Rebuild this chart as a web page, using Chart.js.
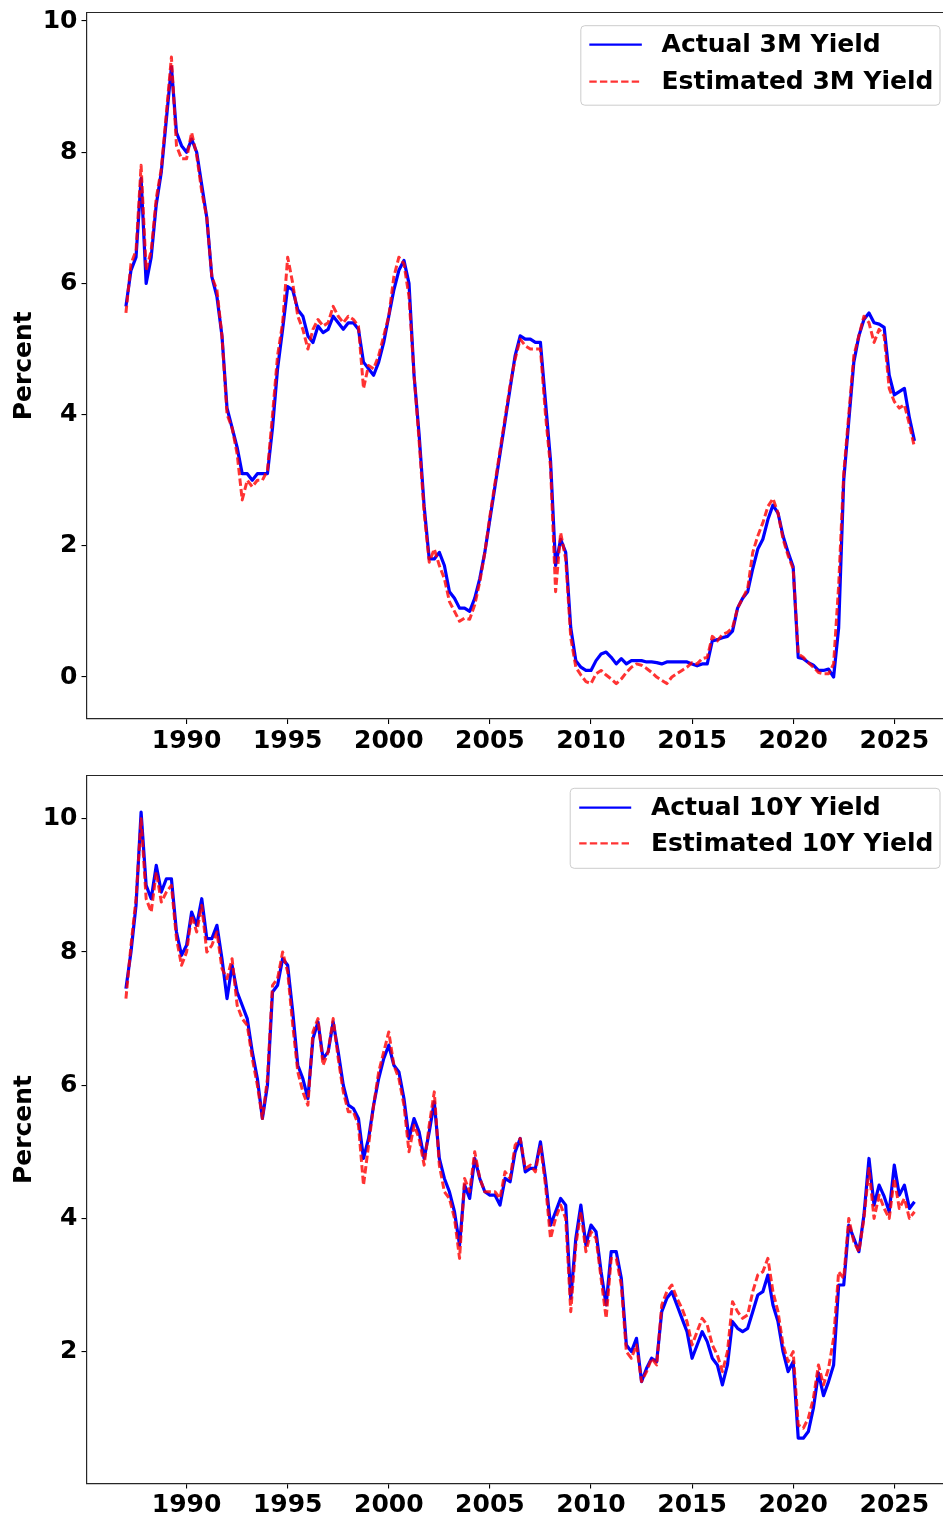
<!DOCTYPE html>
<html>
<head>
<meta charset="utf-8">
<script src="https://cdn.jsdelivr.net/npm/chart.js@4.4.1/dist/chart.umd.min.js"></script>
<style>
  html, body { margin: 0; padding: 0; background: #ffffff; overflow: hidden; }
  #wrap1 { position: absolute; left: 0; top: 0; width: 943px; height: 760px; }
  #wrap2 { position: absolute; left: 0; top: 760px; width: 943px; height: 756px; }
</style>
</head>
<body>
<div id="wrap1"><canvas id="c1" width="943" height="760"></canvas></div>
<div id="wrap2"><canvas id="c2" width="943" height="756"></canvas></div>
<script>
// ---- Data (quarterly readings, decimal years) ----
const dates = [
  1987, 1987.25, 1987.5, 1987.75, 1988, 1988.25, 1988.5, 1988.75,
  1989, 1989.25, 1989.5, 1989.75, 1990, 1990.25, 1990.5, 1990.75,
  1991, 1991.25, 1991.5, 1991.75, 1992, 1992.25, 1992.5, 1992.75,
  1993, 1993.25, 1993.5, 1993.75, 1994, 1994.25, 1994.5, 1994.75,
  1995, 1995.25, 1995.5, 1995.75, 1996, 1996.25, 1996.5, 1996.75,
  1997, 1997.25, 1997.5, 1997.75, 1998, 1998.25, 1998.5, 1998.75,
  1999, 1999.25, 1999.5, 1999.75, 2000, 2000.25, 2000.5, 2000.75,
  2001, 2001.25, 2001.5, 2001.75, 2002, 2002.25, 2002.5, 2002.75,
  2003, 2003.25, 2003.5, 2003.75, 2004, 2004.25, 2004.5, 2004.75,
  2005, 2005.25, 2005.5, 2005.75, 2006, 2006.25, 2006.5, 2006.75,
  2007, 2007.25, 2007.5, 2007.75, 2008, 2008.25, 2008.5, 2008.75,
  2009, 2009.25, 2009.5, 2009.75, 2010, 2010.25, 2010.5, 2010.75,
  2011, 2011.25, 2011.5, 2011.75, 2012, 2012.25, 2012.5, 2012.75,
  2013, 2013.25, 2013.5, 2013.75, 2014, 2014.25, 2014.5, 2014.75,
  2015, 2015.25, 2015.5, 2015.75, 2016, 2016.25, 2016.5, 2016.75,
  2017, 2017.25, 2017.5, 2017.75, 2018, 2018.25, 2018.5, 2018.75,
  2019, 2019.25, 2019.5, 2019.75, 2020, 2020.25, 2020.5, 2020.75,
  2021, 2021.25, 2021.5, 2021.75, 2022, 2022.25, 2022.5, 2022.75,
  2023, 2023.25, 2023.5, 2023.75, 2024, 2024.25, 2024.5, 2024.75,
  2025, 2025.25, 2025.5, 2025.75, 2026
];

const actual3M = [
  5.65, 6.2, 6.4, 7.6,   6.0, 6.4, 7.2, 7.7,
  8.5, 9.3, 8.3, 8.1,    8.0, 8.2, 8.0, 7.5,
  7.0, 6.1, 5.8, 5.2,    4.1, 3.8, 3.5, 3.1,
  3.1, 3.0, 3.1, 3.1,    3.1, 3.8, 4.7, 5.3,
  5.95, 5.9, 5.6, 5.5,   5.2, 5.1, 5.35, 5.25,
  5.3, 5.5, 5.4, 5.3,    5.4, 5.4, 5.3, 4.8,
  4.7, 4.6, 4.8, 5.1,    5.5, 5.9, 6.2, 6.35,
  6.0, 4.6, 3.7, 2.6,    1.8, 1.8, 1.9, 1.7,
  1.3, 1.2, 1.05, 1.05,  1.0, 1.2, 1.5, 1.9,
  2.4, 2.9, 3.4, 3.9,    4.4, 4.9, 5.2, 5.15,
  5.15, 5.1, 5.1, 4.2,   3.3, 1.7, 2.1, 1.9,
  0.75, 0.25, 0.15, 0.1, 0.1, 0.25, 0.35, 0.38,
  0.3, 0.2, 0.28, 0.2,   0.25, 0.25, 0.25, 0.23,
  0.23, 0.22, 0.2, 0.23, 0.23, 0.23, 0.23, 0.23,
  0.2, 0.17, 0.2, 0.2,   0.55, 0.57, 0.6, 0.62,
  0.7, 1.05, 1.2, 1.3,   1.65, 1.95, 2.1, 2.4,
  2.62, 2.5, 2.15, 1.9,  1.68, 0.3, 0.28, 0.22,
  0.18, 0.1, 0.1, 0.12,  0.0, 0.75, 3.0, 3.9,
  4.8, 5.2, 5.45, 5.55,  5.4, 5.38, 5.33, 4.6,
  4.3, 4.35, 4.4, 3.95,  3.6
];

const estimated3M = [
  5.55, 6.3, 6.5, 7.8,   6.2, 6.5, 7.3, 7.75,
  8.6, 9.45, 8.1, 7.9,   7.9, 8.3, 7.95, 7.4,
  7.0, 6.1, 5.9, 5.2,    4.0, 3.8, 3.4, 2.7,
  3.0, 2.9, 3.0, 3.0,    3.15, 4.0, 4.9, 5.4,
  6.4, 6.0, 5.5, 5.3,    5.0, 5.3, 5.45, 5.35,
  5.4, 5.65, 5.5, 5.4,   5.5, 5.45, 5.35, 4.4,
  4.75, 4.7, 4.9, 5.2,   5.5, 6.1, 6.4, 6.3,
  5.8, 4.6, 3.6, 2.5,    1.75, 1.95, 1.7, 1.5,
  1.15, 1.0, 0.85, 0.9,  0.88, 1.1, 1.45, 1.9,
  2.45, 2.95, 3.45, 3.95, 4.45, 4.85, 5.15, 5.05,
  5.0, 5.0, 5.0, 4.0,    3.2, 1.3, 2.2, 1.8,
  0.6, 0.15, 0.03, -0.07, -0.1, 0.05, 0.1, 0.03,
  -0.03, -0.1, -0.03, 0.07, 0.15, 0.2, 0.18, 0.13,
  0.07, 0.0, -0.05, -0.1, 0.0, 0.05, 0.1, 0.15,
  0.22, 0.2, 0.28, 0.3,  0.62, 0.55, 0.65, 0.68,
  0.75, 1.05, 1.2, 1.35, 1.9, 2.15, 2.35, 2.6,
  2.72, 2.5, 2.1, 1.85,  1.65, 0.35, 0.3, 0.22,
  0.15, 0.07, 0.05, 0.05, 0.2, 1.4, 3.1, 4.0,
  4.9, 5.2, 5.5, 5.4,    5.1, 5.3, 5.2, 4.4,
  4.2, 4.1, 4.15, 3.85,  3.5
];

const actual10Y = [
  7.45, 8.0, 8.7, 10.1,  9.0, 8.8, 9.3, 8.9,
  9.1, 9.1, 8.3, 7.95,   8.1, 8.6, 8.4, 8.8,
  8.2, 8.2, 8.4, 7.9,    7.3, 7.8, 7.4, 7.2,
  7.0, 6.5, 6.1, 5.5,    6.0, 7.4, 7.5, 7.9,
  7.8, 7.1, 6.3, 6.1,    5.8, 6.7, 6.95, 6.4,
  6.5, 6.95, 6.5, 6.0,   5.7, 5.65, 5.5, 4.9,
  5.2, 5.7, 6.1, 6.4,    6.6, 6.3, 6.2, 5.8,
  5.2, 5.5, 5.3, 4.9,    5.3, 5.75, 4.9, 4.6,
  4.4, 4.1, 3.6, 4.5,    4.3, 4.9, 4.6, 4.4,
  4.35, 4.35, 4.2, 4.6,  4.55, 5.0, 5.2, 4.7,
  4.75, 4.75, 5.15, 4.6, 3.9, 4.1, 4.3, 4.2,
  2.8, 3.7, 4.2, 3.6,    3.9, 3.8, 3.2, 2.7,
  3.5, 3.5, 3.1, 2.1,    2.0, 2.2, 1.55, 1.75,
  1.9, 1.85, 2.6, 2.8,   2.9, 2.7, 2.5, 2.3,
  1.9, 2.1, 2.3, 2.15,   1.9, 1.8, 1.5, 1.8,
  2.45, 2.35, 2.3, 2.35, 2.6, 2.85, 2.9, 3.15,
  2.7, 2.45, 2.0, 1.7,   1.85, 0.7, 0.7, 0.8,
  1.15, 1.68, 1.34, 1.55, 1.8, 3.0, 3.0, 3.9,
  3.7, 3.5, 4.05, 4.9,   4.2, 4.5, 4.33, 4.1,
  4.8, 4.35, 4.5, 4.15,  4.25
];

const estimated10Y = [
  7.3, 8.1, 8.8, 10.0,   8.8, 8.6, 9.2, 8.75,
  8.9, 9.0, 8.2, 7.8,    8.0, 8.55, 8.3, 8.7,
  8.0, 8.1, 8.3, 7.75,   7.6, 7.9, 7.2, 7.0,
  6.9, 6.4, 6.0, 5.5,    6.1, 7.5, 7.6, 8.0,
  7.7, 6.9, 6.2, 5.9,    5.7, 6.8, 7.0, 6.3,
  6.5, 7.0, 6.4, 5.9,    5.6, 5.6, 5.4, 4.5,
  5.1, 5.7, 6.2, 6.5,    6.8, 6.3, 6.1, 5.7,
  5.0, 5.4, 5.2, 4.8,    5.4, 5.9, 4.8, 4.4,
  4.3, 4.0, 3.4, 4.6,    4.4, 5.0, 4.6, 4.4,
  4.4, 4.4, 4.3, 4.7,    4.6, 5.1, 5.2, 4.75,
  4.8, 4.7, 5.1, 4.5,    3.7, 4.0, 4.2, 4.0,
  2.6, 3.6, 4.1, 3.5,    3.8, 3.7, 3.1, 2.5,
  3.4, 3.4, 3.0, 2.0,    1.9, 2.1, 1.55, 1.7,
  1.9, 1.8, 2.7, 2.9,    3.0, 2.8, 2.65, 2.45,
  2.1, 2.3, 2.5, 2.4,    2.1, 1.95, 1.7, 2.0,
  2.75, 2.6, 2.5, 2.55,  2.9, 3.15, 3.2, 3.4,
  2.9, 2.6, 2.1, 1.85,   2.0, 0.9, 0.85, 1.0,
  1.3, 1.8, 1.5, 1.75,   2.2, 3.2, 3.1, 4.0,
  3.65, 3.5, 4.0, 4.75,  4.0, 4.35, 4.15, 4.0,
  4.6, 4.15, 4.3, 4.0,   4.1
];

const xTickYears = [1990, 1995, 2000, 2005, 2010, 2015, 2020, 2025];
const yTicks3M = [0, 2, 4, 6, 8, 10];
const yTicks10Y = [2, 4, 6, 8, 10];
const labels3M = ['Actual 3M Yield', 'Estimated 3M Yield'];
const labels10Y = ['Actual 10Y Yield', 'Estimated 10Y Yield'];

// ---- Styling helpers ----
const FONT = { family: 'DejaVu Sans', size: 25, weight: 'bold' };
const SPINE = '#262626';
const BLUE = '#0000ff';
const RED = 'rgba(255,0,0,0.8)';
const DASH = [7.4, 3.2];

function pts(xs, ys) { return xs.map((x, i) => ({ x: x, y: ys[i] })); }

const topSpine = {
  id: 'topSpine',
  afterDraw(chart) {
    const { ctx, chartArea } = chart;
    ctx.save();
    ctx.strokeStyle = SPINE;
    ctx.lineWidth = 1.2;
    ctx.beginPath();
    ctx.moveTo(chartArea.left, chartArea.top);
    ctx.lineTo(chartArea.right, chartArea.top);
    ctx.stroke();
    ctx.restore();
  }
};

const legendBox = {
  id: 'legendBox',
  afterDraw(chart, args, opts) {
    const { ctx, chartArea } = chart;
    const ds = chart.data.datasets;
    ctx.save();
    ctx.font = 'bold 25px "DejaVu Sans"';
    const widths = ds.map(d => ctx.measureText(d.label).width);
    const w = opts.textOffset + Math.max.apply(null, widths) + opts.rightPad;
    const h = opts.height;
    const x = opts.right - w;
    const y = chartArea.top + opts.top;
    ctx.beginPath();
    if (ctx.roundRect) ctx.roundRect(x, y, w, h, 4); else ctx.rect(x, y, w, h);
    ctx.fillStyle = 'rgba(255,255,255,0.8)';
    ctx.fill();
    ctx.strokeStyle = '#cccccc';
    ctx.lineWidth = 1;
    ctx.stroke();
    ds.forEach((d, i) => {
      const ly = y + opts.rows[i];
      ctx.save();
      ctx.strokeStyle = d.borderColor;
      ctx.lineWidth = 2.2;
      ctx.setLineDash(d.borderDash || []);
      ctx.beginPath();
      ctx.moveTo(x + opts.handle[0], ly);
      ctx.lineTo(x + opts.handle[1], ly);
      ctx.stroke();
      ctx.restore();
      ctx.fillStyle = '#000000';
      ctx.textAlign = 'left';
      ctx.textBaseline = 'middle';
      ctx.fillText(d.label, x + opts.textOffset, ly + 1);
    });
    ctx.restore();
  }
};

function makeChart(canvasId, labels, actual, estimated, yMin, yMax, yTickVals, padTop, xAxisH, legendOpts) {
  return new Chart(document.getElementById(canvasId), {
    type: 'line',
    data: {
      datasets: [
        { label: labels[0], data: pts(dates, actual), borderColor: BLUE, borderWidth: 3.2,
          pointRadius: 0, tension: 0, fill: false, order: 1, borderJoinStyle: 'round' },
        { label: labels[1], data: pts(dates, estimated), borderColor: RED, borderWidth: 3,
          borderDash: DASH, pointRadius: 0, tension: 0, fill: false, order: 0, borderJoinStyle: 'round' }
      ]
    },
    options: {
      responsive: false,
      animation: false,
      devicePixelRatio: 1,
      events: [],
      layout: { padding: { top: padTop, right: 0, bottom: 0, left: 0 } },
      plugins: {
        legend: { display: false },
        tooltip: { enabled: false },
        legendBox: legendOpts
      },
      scales: {
        x: {
          type: 'linear',
          position: 'bottom',
          min: 1985.05,
          max: 2027.41,
          afterBuildTicks: (s) => { s.ticks = xTickYears.map(v => ({ value: v })); },
          afterFit: (s) => { s.height = xAxisH; s.paddingLeft = 0; s.paddingRight = 0; },
          ticks: { font: FONT, color: '#000', autoSkip: false, maxRotation: 0, padding: 2,
                   callback: (v) => String(v) },
          grid: { drawOnChartArea: false, drawTicks: true, tickLength: 5, color: '#000', lineWidth: 1.1 },
          border: { display: true, color: SPINE, width: 1.2 }
        },
        y: {
          type: 'linear',
          min: yMin,
          max: yMax,
          afterBuildTicks: (s) => { s.ticks = yTickVals.map(v => ({ value: v })); },
          afterFit: (s) => { s.width = 86.5; s.paddingTop = 0; s.paddingBottom = 0; },
          ticks: { font: FONT, color: '#000', padding: 4, callback: (v) => String(v) },
          grid: { drawOnChartArea: false, drawTicks: true, tickLength: 5, color: '#000', lineWidth: 1.1 },
          border: { display: true, color: SPINE, width: 1.2 },
          title: { display: true, text: 'Percent', font: FONT, color: '#000', padding: { top: 9, bottom: 0 } }
        }
      }
    },
    plugins: [topSpine, legendBox]
  });
}

makeChart('c1', labels3M, actual3M, estimated3M, -0.64, 10.13, yTicks3M, 12.5, 41,
  { top: 13.2, right: 940, height: 79.5, rows: [19, 56], handle: [8.5, 61], textOffset: 80.7, rightPad: 6.5 });
makeChart('c2', labels10Y, actual10Y, estimated10Y, 0.02, 10.65, yTicks10Y, 15.5, 32.5,
  { top: 12.8, right: 940, height: 80, rows: [19.4, 55], handle: [9, 61], textOffset: 80.7, rightPad: 6.5 });
</script>
</body>
</html>
